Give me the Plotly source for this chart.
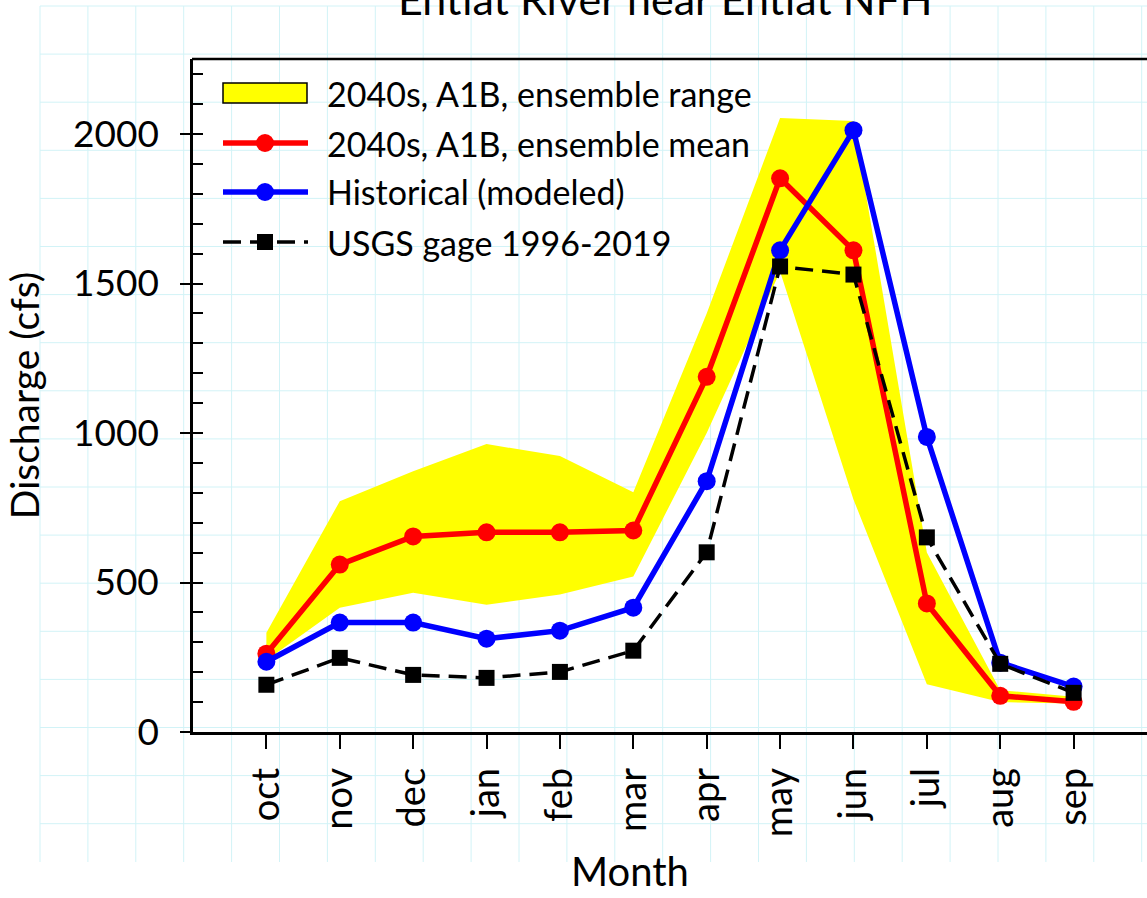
import plotly.graph_objects as go

# ---------------- data ----------------
months = ["oct", "nov", "dec", "jan", "feb", "mar", "apr", "may", "jun", "jul", "aug", "sep"]
range_upper = [332, 772, 872, 963, 923, 802, 1400, 2054, 2044, 600, 140, 118]
range_lower = [240, 416, 466, 426, 460, 520, 1000, 1540, 778, 160, 100, 95]
mean_2040s = [262, 560, 654, 668, 668, 674, 1188, 1852, 1611, 430, 121, 101]
historical = [235, 366, 366, 312, 339, 416, 839, 1611, 2013, 987, 232, 152]
usgs_gage = [158, 248, 191, 181, 201, 272, 601, 1557, 1530, 651, 228, 131]

title_text = "Entiat River near Entiat NFH"
legend_labels = ["2040s, A1B, ensemble range", "2040s, A1B, ensemble mean",
                 "Historical (modeled)", "USGS gage 1996-2019"]
y_title = "Discharge (cfs)"
x_title = "Month"

# ---------------- layout geometry (pixels) ----------------
W, H = 1147, 898
L, R, T, B = 193, 1147, 59, 732   # plot area edges in pixels
FONT = "Lato"
DASH = "18px,9px"


def px(xp):
    return (xp - L) / (R - L)


def py(yp):
    return (B - yp) / (B - T)


fig = go.Figure()

# ensemble range (filled polygon)
fig.add_trace(go.Scatter(
    x=months + months[::-1], y=range_upper + range_lower[::-1],
    fill="toself", fillcolor="#FFFF00", line=dict(width=0),
    mode="lines", hoverinfo="skip", showlegend=False))

fig.add_trace(go.Scatter(
    x=months, y=mean_2040s, mode="lines+markers",
    line=dict(color="#FF0000", width=5.5),
    marker=dict(color="#FF0000", size=18), showlegend=False))

fig.add_trace(go.Scatter(
    x=months, y=historical, mode="lines+markers",
    line=dict(color="#0000FF", width=5.5),
    marker=dict(color="#0000FF", size=18), showlegend=False))

fig.add_trace(go.Scatter(
    x=months, y=usgs_gage, mode="lines+markers",
    line=dict(color="#000000", width=3.5, dash=DASH),
    marker=dict(color="#000000", size=16, symbol="square"), showlegend=False))

# overlay axis just for inside minor ticks
fig.add_trace(go.Scatter(x=[None], y=[None], yaxis="y2", showlegend=False, hoverinfo="skip"))

shapes = []
# background graph-paper grid
gc = "#d2f3f7"
xg = 40.0
while xg <= 1143:
    shapes.append(dict(type="line", xref="paper", yref="paper",
                       x0=px(xg), x1=px(xg), y0=py(6), y1=py(862),
                       line=dict(color=gc, width=1), layer="below"))
    xg += 47.9
yg = 6.0
while yg <= 862:
    shapes.append(dict(type="line", xref="paper", yref="paper",
                       x0=px(40), x1=px(W), y0=py(yg), y1=py(yg),
                       line=dict(color=gc, width=1), layer="below"))
    yg += 48.1

# top frame line
shapes.append(dict(type="line", xref="paper", yref="paper",
                   x0=px(L - 1), x1=px(W), y0=1, y1=1,
                   line=dict(color="#000000", width=2.5)))

# custom legend
rows = [93, 143, 192, 242]
lx0, lx1, lxm = 223, 308, 265
shapes.append(dict(type="rect", xref="paper", yref="paper",
                   x0=px(lx0), x1=px(lx1 - 1), y0=py(rows[0] - 10), y1=py(rows[0] + 10),
                   fillcolor="#FFFF00", line=dict(color="#000000", width=1.5)))
for yy, col, dash, w in [(rows[1], "#FF0000", "solid", 5.5),
                         (rows[2], "#0000FF", "solid", 5.5),
                         (rows[3], "#000000", DASH, 3.5)]:
    shapes.append(dict(type="line", xref="paper", yref="paper",
                       x0=px(lx0), x1=px(lx1), y0=py(yy), y1=py(yy),
                       line=dict(color=col, width=w, dash=dash)))
for yy, col in [(rows[1], "#FF0000"), (rows[2], "#0000FF")]:
    shapes.append(dict(type="circle", xref="paper", yref="paper",
                       xsizemode="pixel", ysizemode="pixel",
                       xanchor=px(lxm), yanchor=py(yy),
                       x0=-9, x1=9, y0=-9, y1=9,
                       fillcolor=col, line=dict(width=0)))
shapes.append(dict(type="rect", xref="paper", yref="paper",
                   xsizemode="pixel", ysizemode="pixel",
                   xanchor=px(lxm), yanchor=py(rows[3]),
                   x0=-8, x1=8, y0=-8, y1=8,
                   fillcolor="#000000", line=dict(width=0)))

annotations = []
for yy, lab in zip(rows, legend_labels):
    annotations.append(dict(xref="paper", yref="paper", x=px(325), y=py(yy),
                            xanchor="left", yanchor="middle", text=lab, showarrow=False,
                            font=dict(family=FONT, size=34, color="#000000")))
annotations.append(dict(xref="paper", yref="paper", x=px(665), y=py(26),
                        xanchor="center", yanchor="bottom", text=title_text, showarrow=False,
                        font=dict(family=FONT, size=43, color="#000000")))
# x-axis title (offset left of plot centre, as in the reference)
annotations.append(dict(xref="paper", yref="paper", x=px(630), y=py(897),
                        xanchor="center", yanchor="bottom", text=x_title, showarrow=False,
                        font=dict(family=FONT, size=40, color="#000000")))

fig.update_layout(
    width=W, height=H,
    margin=dict(l=L, r=W - R, t=T, b=H - B, pad=0),
    paper_bgcolor="rgba(255,255,255,1)",
    plot_bgcolor="rgba(0,0,0,0)",
    shapes=shapes, annotations=annotations,
    showlegend=False,
    xaxis=dict(
        type="category", range=[-1, 12],
        showgrid=False, zeroline=False,
        showline=True, linecolor="#000000", linewidth=2.5,
        ticks="outside", ticklen=14, tickwidth=2, tickcolor="#000000",
        ticklabelstandoff=4,
        tickangle=-90, tickfont=dict(family=FONT, size=38, color="#000000"),
    ),
    yaxis=dict(
        range=[0, 2251], dtick=500, tick0=0,
        showgrid=False, zeroline=False,
        showline=True, linecolor="#000000", linewidth=2.5,
        ticks="outside", ticklen=10, tickwidth=2, tickcolor="#000000",
        ticklabelstandoff=14,
        tickfont=dict(family=FONT, size=37, color="#000000"),
        title=dict(text=y_title, font=dict(family=FONT, size=39, color="#000000"), standoff=22),
    ),
    yaxis2=dict(
        overlaying="y", range=[0, 2251], dtick=100, tick0=0,
        showgrid=False, zeroline=False, showline=False,
        ticks="inside", ticklen=10, tickwidth=1.5, tickcolor="#000000",
        showticklabels=False, side="left",
    ),
)

fig.write_html("out.html", config={"displayModeBar": False})
